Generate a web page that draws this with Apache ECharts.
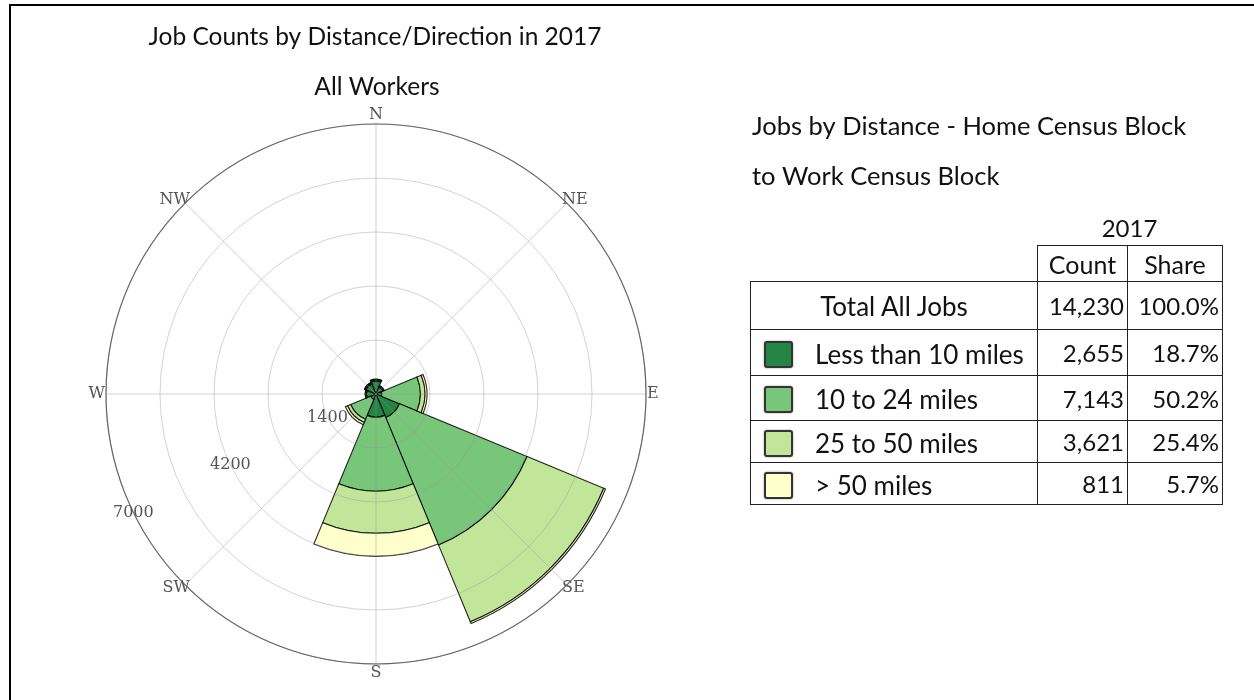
<!DOCTYPE html>
<html>
<head>
<meta charset="utf-8">
<script src="https://cdn.jsdelivr.net/npm/echarts@6/dist/echarts.min.js"></script>
<style>
html,body{margin:0;padding:0;background:#fff;}
#chart{position:absolute;left:0;top:0;width:1254px;height:700px;}
#frame{position:absolute;left:9px;top:4px;width:1245px;height:696px;border-top:2px solid #000;border-left:2px solid #000;pointer-events:none;box-sizing:border-box;}
#year{position:absolute;left:1037px;top:213px;width:185px;text-align:center;font-family:Lato,sans-serif;font-size:24px;color:#111;}
#tbl{position:absolute;left:750px;top:245px;border-collapse:collapse;table-layout:fixed;font-family:Lato,sans-serif;font-size:24px;color:#111;}
#tbl td{border:1.5px solid #222;padding:0;box-sizing:border-box;white-space:nowrap;overflow:visible;}
#tbl td.num{text-align:right;padding-right:3px;font-size:24px;}
#tbl td.hdr{text-align:center;font-size:25px;}
#tbl td.blank{border:none;}
#tbl td.lab{text-align:left;font-size:26px;}
#tbl td.tot{text-align:center;font-size:26px;}
.sw{display:inline-block;width:29px;height:27px;border:2px solid #333;border-radius:3px;box-sizing:border-box;margin-left:13px;margin-right:22px;vertical-align:middle;box-shadow:0 0 2px rgba(0,0,0,0.45);}
.lt{vertical-align:middle;}
</style>
</head>
<body>
<div id="chart"></div>
<div id="frame"></div>
<div id="year"></div>
<table id="tbl"></table>
<script>
// ---- data ----
const directions = ['N', 'NE', 'E', 'SE', 'S', 'SW', 'W', 'NW'];
const seriesNames = ['Less than 10 miles', '10 to 24 miles', '25 to 50 miles', '> 50 miles'];
const lessThan10 = [340, 200, 150, 660, 600, 150, 250, 280];
const from10to24 = [30, 20, 1000, 3580, 1920, 560, 20, 30];
const from25to50 = [10, 10, 120, 2150, 1090, 90, 10, 10];
const over50 = [5, 5, 50, 50, 600, 60, 5, 5];
const radiusTickLabels = [1400, 4200, 7000];
const tableYear = '2017';
const tableHeaders = ['Count', 'Share'];
const totalLabel = 'Total All Jobs';
const totalCount = '14,230';
const totalShare = '100.0%';
const tableCounts = ['2,655', '7,143', '3,621', '811'];
const tableShares = ['18.7%', '50.2%', '25.4%', '5.7%'];

// ---- styles ----
const colors = ['#238443', '#78c679', '#c2e699', '#ffffcc'];
const seriesData = [lessThan10, from10to24, from25to50, over50];

// ---- table ----
document.getElementById('year').textContent = tableYear;
const tbl = document.getElementById('tbl');
let html = '<colgroup><col style="width:287px"><col style="width:90px"><col style="width:95px"></colgroup>';
html += '<tr style="height:36px"><td class="blank"></td><td class="hdr">' + tableHeaders[0] + '</td><td class="hdr">' + tableHeaders[1] + '</td></tr>';
html += '<tr style="height:48px"><td class="tot">' + totalLabel + '</td><td class="num">' + totalCount + '</td><td class="num">' + totalShare + '</td></tr>';
const rowH = [46, 45, 42, 42];
for (let i = 0; i < seriesNames.length; i++) {
  html += '<tr style="height:' + rowH[i] + 'px"><td class="lab"><span class="sw" style="background:' + colors[i] + '"></span><span class="lt">' +
    seriesNames[i].replace('>', '&gt;') + '</span></td><td class="num">' + tableCounts[i] + '</td><td class="num">' + tableShares[i] + '</td></tr>';
}
tbl.innerHTML = html;

// ---- chart ----
const chart = echarts.init(document.getElementById('chart'), null, {renderer: 'canvas'});
const C = [376, 394], R = 270;
const labelFont = {color: '#555', fontFamily: 'DejaVu Serif', fontSize: 16};
const gridColor = 'rgba(150,150,150,0.42)';

const series = seriesNames.map((name, i) => ({
  name: name,
  type: 'bar',
  coordinateSystem: 'polar',
  polarIndex: 0,
  stack: 'dist',
  barCategoryGap: '0%',
  data: seriesData[i],
  itemStyle: {color: colors[i], borderColor: 'rgba(0,0,0,0.85)', borderWidth: 1.1},
  z: 2
}));

// rich styles: push cardinal labels outward, diagonal labels sit closer
const P = 8;
const dirRich = {
  n: Object.assign({padding: [0, 0, P, 0]}, labelFont),
  s: Object.assign({padding: [P, 0, 0, 0]}, labelFont),
  e: Object.assign({padding: [0, 0, 0, P]}, labelFont),
  w: Object.assign({padding: [0, P, 0, 0]}, labelFont),
  d: Object.assign({}, labelFont)
};
const dirStyleKey = {N: 'n', S: 's', E: 'e', W: 'w'};

const option = {
  animation: false,
  backgroundColor: '#fff',
  polar: [
    {center: C, radius: R},
    {center: C, radius: R},
    {center: C, radius: R}
  ],
  angleAxis: [
    {polarIndex: 0, type: 'category', data: directions, startAngle: 112.5, clockwise: true,
     axisLine: {show: false}, axisTick: {show: false}, axisLabel: {show: false}, splitLine: {show: false}},
    {polarIndex: 1, type: 'value', min: 0, max: 360, interval: 45, startAngle: 90, clockwise: true, z: 10,
     axisLine: {show: true, lineStyle: {color: '#666', width: 1.2}},
     axisTick: {show: false},
     axisLabel: Object.assign({margin: -7, rich: dirRich, formatter: v => {
       const d = directions[Math.round(v / 45)];
       if (!d) return '';
       return '{' + (dirStyleKey[d] || 'd') + '|' + d + '}';
     }}, labelFont),
     splitLine: {show: true, lineStyle: {color: gridColor, width: 1}}},
    {polarIndex: 2, type: 'value', min: 0, max: 360, startAngle: 206, clockwise: true,
     axisLine: {show: false}, axisTick: {show: false}, axisLabel: {show: false}, splitLine: {show: false}}
  ],
  radiusAxis: [
    {polarIndex: 0, type: 'value', min: 0, max: 7000,
     axisLine: {show: false}, axisTick: {show: false}, axisLabel: {show: false}, splitLine: {show: false}},
    {polarIndex: 1, type: 'value', min: 0, max: 7000, interval: 1400, z: 10,
     axisLine: {show: false}, axisTick: {show: false}, axisLabel: {show: false},
     splitLine: {show: true, lineStyle: {color: gridColor, width: 1}}},
    {polarIndex: 2, type: 'value', min: 0, max: 7000, interval: 1400, z: 12,
     axisLine: {show: false}, axisTick: {show: false}, splitLine: {show: false},
     axisLabel: Object.assign({margin: 0, align: 'center', verticalAlign: 'middle',
       formatter: v => radiusTickLabels.indexOf(v) >= 0 ? String(v) : ''}, labelFont)}
  ],
  graphic: [
    {type: 'text', x: 375, y: 37, style: {text: 'Job Counts by Distance/Direction in 2017', align: 'center', verticalAlign: 'middle', fontFamily: 'Lato', fontSize: 24.5, fill: '#111'}},
    {type: 'text', x: 377, y: 87, style: {text: 'All Workers', align: 'center', verticalAlign: 'middle', fontFamily: 'Lato', fontSize: 24.5, fill: '#111'}},
    {type: 'text', x: 752, y: 127, style: {text: 'Jobs by Distance - Home Census Block', align: 'left', verticalAlign: 'middle', fontFamily: 'Lato', fontSize: 25.5, fill: '#111'}},
    {type: 'text', x: 752, y: 177, style: {text: 'to Work Census Block', align: 'left', verticalAlign: 'middle', fontFamily: 'Lato', fontSize: 25.5, fill: '#111'}}
  ],
  series: series
};
chart.setOption(option);
</script>
</body>
</html>
